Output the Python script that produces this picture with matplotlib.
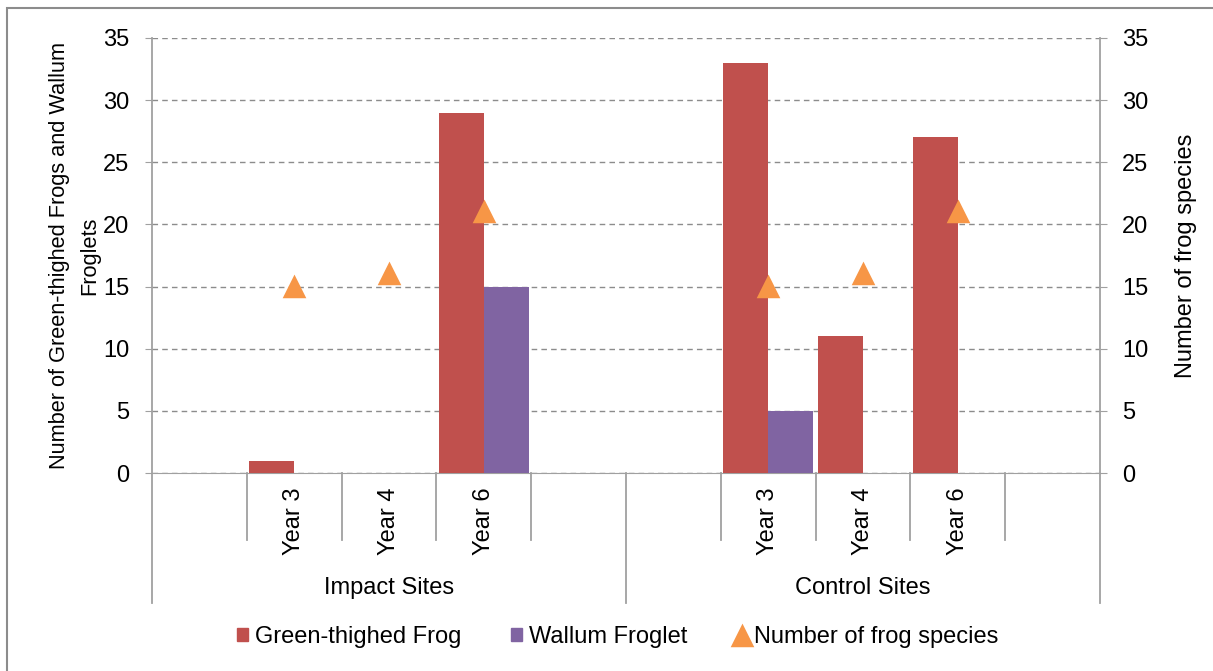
import numpy as np
import matplotlib
matplotlib.use("Agg")
import matplotlib.pyplot as plt
from matplotlib.patches import Rectangle
from matplotlib.lines import Line2D
from matplotlib.transforms import blended_transform_factory

plt.rcParams["font.family"] = ["Liberation Sans", "DejaVu Sans"]

# data: 10 category slots, two groups of five (blank slots at each edge)
groups = ["Impact Sites", "Control Sites"]
slot_labels = ["", "Year 3", "Year 4", "Year 6", ""] * 2
green_frog = [np.nan, 1, 0, 29, np.nan, np.nan, 33, 11, 27, np.nan]
wallum_froglet = [np.nan, 0, 0, 15, np.nan, np.nan, 5, 0, 0, np.nan]
n_species = [np.nan, 15, 16, 21, np.nan, np.nan, 15, 16, 21, np.nan]
yticks = [0, 5, 10, 15, 20, 25, 30, 35]

C_GREEN = "#C0504D"
C_WALLUM = "#8064A2"
C_SPECIES = "#F79646"
C_AXIS = "#A0A0A0"
FS = 17

W, H = 1213, 671
fig = plt.figure(figsize=(W / 100, H / 100), dpi=100)
fig.patches.append(Rectangle((7 / W, -0.1), 1.2, 1 - 8 / H + 0.1, transform=fig.transFigure,
                             fill=False, edgecolor="#8C8C8C", linewidth=1.5))

ax = fig.add_axes([152 / W, 1 - 473 / H, (1100 - 152) / W, (473 - 38) / H])
x = np.arange(len(slot_labels))
bw = 0.475
ax.bar(x - bw / 2, green_frog, width=bw, color=C_GREEN, zorder=3)
ax.bar(x + bw / 2, wallum_froglet, width=bw, color=C_WALLUM, zorder=3)

ax.set_xlim(-0.5, len(slot_labels) - 0.5)
ax.set_ylim(0, 35)
ax.set_yticks(yticks)
ax.yaxis.grid(True, linestyle=(0, (4, 3)), color="#8C8C8C", linewidth=1, zorder=0)
ax.tick_params(axis="y", labelsize=FS, length=5, color=C_AXIS, pad=11.5)
ax.set_xticks([])
for s in ["top", "right", "left"]:
    ax.spines[s].set_visible(False)
ax.spines["bottom"].set_color(C_AXIS)

ax2 = ax.twinx()
ax2.set_ylim(0, 35)
ax2.set_yticks(yticks)
ax2.plot(x, n_species, linestyle="none", marker="^", markersize=13, color=C_SPECIES,
         markeredgewidth=2.5, markeredgecolor=C_SPECIES, zorder=5)
ax2.tick_params(axis="y", labelsize=FS, length=5, color=C_AXIS, pad=11)
for s in ["top", "left", "bottom", "right"]:
    ax2.spines[s].set_visible(False)
ax2.set_ylabel("Number of frog species", fontsize=FS, labelpad=19)

# vertical axes lines extending below plot
tr = blended_transform_factory(ax.transData, ax.transAxes)
ax.plot([-0.5, -0.5], [1, -0.299], transform=tr, color=C_AXIS, lw=1.3, clip_on=False)
ax.plot([9.5, 9.5], [1, -0.299], transform=tr, color=C_AXIS, lw=1.3, clip_on=False)
ax.plot([4.5, 4.5], [0, -0.299], transform=tr, color=C_AXIS, lw=1.3, clip_on=False)
for b in [0.5, 1.5, 2.5, 3.5, 5.5, 6.5, 7.5, 8.5]:
    ax.plot([b, b], [0, -0.154], transform=tr, color=C_AXIS, lw=1.3, clip_on=False)

for i, lab in enumerate(slot_labels):
    if lab:
        ax.text(i, -0.034, lab, transform=tr, rotation=90, ha="center", va="top", fontsize=FS)
for g, name in enumerate(groups):
    ax.text(g * 5 + 2, -0.264, name, transform=tr, ha="center", va="center", fontsize=FS)

ax.set_ylabel("Number of Green-thighed Frogs and Wallum\nFroglets", fontsize=15.7,
              labelpad=2, linespacing=1.55)

handles = [
    Rectangle((0, 0), 1, 1, color=C_GREEN),
    Rectangle((0, 0), 1, 1, color=C_WALLUM),
    Line2D([], [], linestyle="none", marker="^", markersize=13, color=C_SPECIES,
           markeredgewidth=2.5),
]
fig.legend(handles, ["Green-thighed Frog", "Wallum Froglet", "Number of frog species"],
           loc="center", bbox_to_anchor=(618 / W, 1 - 637 / H), ncol=3, frameon=False,
           fontsize=FS, handlelength=0.45, handleheight=0.45, handletextpad=0.3,
           columnspacing=2.1)

fig.savefig("out.png", dpi=100)
